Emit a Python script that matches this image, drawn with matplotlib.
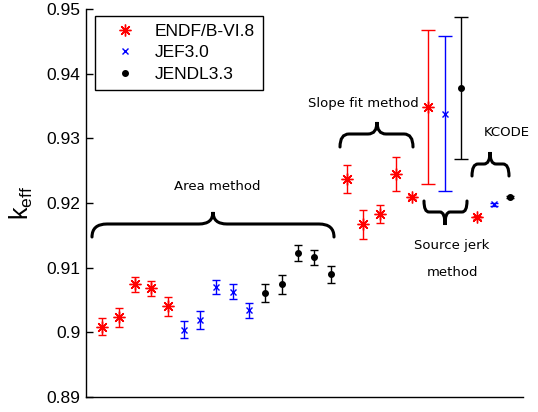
import numpy as np
import matplotlib
matplotlib.use("Agg")
import matplotlib.pyplot as plt
from matplotlib.path import Path
from matplotlib.patches import PathPatch
from matplotlib.lines import Line2D
from matplotlib.transforms import Affine2D

# ---------------- data ----------------
series_names = ["ENDF/B-VI.8", "JEF3.0", "JENDL3.3"]

# Area method (positions 1-15)
area_endf_x = [1, 2, 3, 4, 5]
area_endf_y = [0.9009, 0.9023, 0.9074, 0.9068, 0.9040]
area_endf_e = [0.0013, 0.0014, 0.0012, 0.0012, 0.0015]
area_jef_x = [6, 7, 8, 9, 10]
area_jef_y = [0.9004, 0.9019, 0.9070, 0.9063, 0.9034]
area_jef_e = [0.0013, 0.0014, 0.0011, 0.0011, 0.0012]
area_jendl_x = [11, 12, 13, 14, 15]
area_jendl_y = [0.9061, 0.9074, 0.9123, 0.9116, 0.9090]
area_jendl_e = [0.0014, 0.0014, 0.0012, 0.0012, 0.0013]

# Slope fit method (ENDF only)
slope_endf_x = [16, 17, 18, 19, 20]
slope_endf_y = [0.9237, 0.9167, 0.9183, 0.9245, 0.9209]
slope_endf_e = [0.0022, 0.0022, 0.0014, 0.0026, 0.0003]

# Source jerk method
jerk_x = [21, 22, 23]
jerk_y = [0.9348, 0.9338, 0.9378]
jerk_e = [0.0119, 0.0120, 0.0110]

# KCODE
kcode_x = [24, 25, 26]
kcode_y = [0.9178, 0.9198, 0.9209]
kcode_e = [0.0002, 0.0002, 0.0002]

yticks = [0.89, 0.90, 0.91, 0.92, 0.93, 0.94, 0.95]
ytick_labels = ["0.89", "0.9", "0.91", "0.92", "0.93", "0.94", "0.95"]

# ---------------- styles ----------------
colors = {"ENDF": "#ff0000", "JEF": "#0000ff", "JENDL": "#000000"}
ASTER = (8, 2, 0)
mstyle = {
    "ENDF": dict(marker=ASTER, ms=8.5, mew=1.0),
    "JEF": dict(marker="x", ms=4.5, mew=1.0),
    "JENDL": dict(marker=".", ms=8, mew=1.0),
}

W, H, DPI = 538, 412, 100
fig = plt.figure(figsize=(W / DPI, H / DPI), dpi=DPI)
ax = fig.add_axes([86 / W, 1 - 397 / H, (523 - 86) / W, (397 - 9) / H])

def eb(x, y, e, key, cap=3):
    ax.errorbar(x, y, yerr=e, fmt="none", ecolor=colors[key], elinewidth=1.0,
                capsize=cap, capthick=1.0)
    ax.plot(x, y, ls="none", color=colors[key], **mstyle[key])

eb(area_endf_x, area_endf_y, area_endf_e, "ENDF")
eb(area_jef_x, area_jef_y, area_jef_e, "JEF")
eb(area_jendl_x, area_jendl_y, area_jendl_e, "JENDL")
eb(slope_endf_x, slope_endf_y, slope_endf_e, "ENDF")
for xi, yi, ei, key in zip(jerk_x, jerk_y, jerk_e, ["ENDF", "JEF", "JENDL"]):
    eb([xi], [yi], [ei], key, cap=5)
for xi, yi, ei, key in zip(kcode_x, kcode_y, kcode_e, ["ENDF", "JEF", "JENDL"]):
    eb([xi], [yi], [ei], key, cap=3)

ax.set_xlim(0.0, 26.8)
ax.set_ylim(0.89, 0.95)
ax.set_xticks([])
ax.set_yticks(yticks)
ax.set_yticklabels(ytick_labels, fontfamily="Liberation Sans", fontsize=12.5)
ax.tick_params(axis="y", direction="in", length=5, width=1, pad=4)
for s in ["top", "right"]:
    ax.spines[s].set_visible(False)
for s in ["left", "bottom"]:
    ax.spines[s].set_linewidth(1.0)

ax.set_ylabel(r"$\mathregular{k_{eff}}$", fontsize=18, fontfamily="Liberation Sans",
              labelpad=8)

# legend
handles = [Line2D([], [], ls="none", color=colors[k], **mstyle[k])
           for k in ["ENDF", "JEF", "JENDL"]]
leg = ax.legend(handles, series_names, loc="upper left",
                bbox_to_anchor=(95 / W, 1 - 16 / H), bbox_transform=fig.transFigure,
                prop={"family": "Liberation Sans", "size": 12.5},
                frameon=True, fancybox=False, edgecolor="black", framealpha=1,
                borderpad=0.45, handlelength=2.6, handletextpad=0.4, labelspacing=0.36,
                borderaxespad=0)
leg.get_frame().set_linewidth(1.0)

# braces (layout in figure pixels)
pix = Affine2D().scale(1 / W, -1 / H).translate(0, 1) + fig.transFigure

def brace(x0, x1, y_end, y_flat, y_tip, xc, r_end, r_mid):
    verts = [
        (x0, y_end), (x0, y_flat), (x0 + r_end, y_flat),
        (xc - r_mid, y_flat),
        (xc, y_flat), (xc, y_tip),
        (xc, y_flat), (xc + r_mid, y_flat),
        (x1 - r_end, y_flat),
        (x1, y_flat), (x1, y_end),
    ]
    codes = [Path.MOVETO, Path.CURVE3, Path.CURVE3, Path.LINETO,
             Path.CURVE3, Path.CURVE3, Path.CURVE3, Path.CURVE3,
             Path.LINETO, Path.CURVE3, Path.CURVE3]
    p = PathPatch(Path(verts, codes), transform=pix, fill=False, lw=2.2,
                  edgecolor="black", capstyle="round", clip_on=False)
    fig.add_artist(p)

brace(92, 334, 237, 224, 212, 213, 15, 14)
brace(340, 413, 147, 134, 122, 377, 9, 9)
brace(424, 467, 201, 212, 225, 445, 5, 5)
brace(472, 509, 176, 164, 152, 490, 6, 6)

def label(x, y, s):
    fig.text(x / W, 1 - y / H, s, ha="center", va="center", fontsize=9.5,
             fontfamily="DejaVu Sans")

label(217, 187, "Area method")
label(363, 103, "Slope fit method")
label(452, 246, "Source jerk")
label(452, 273, "method")
label(507, 132, "KCODE")

fig.savefig("out.png", dpi=DPI)
